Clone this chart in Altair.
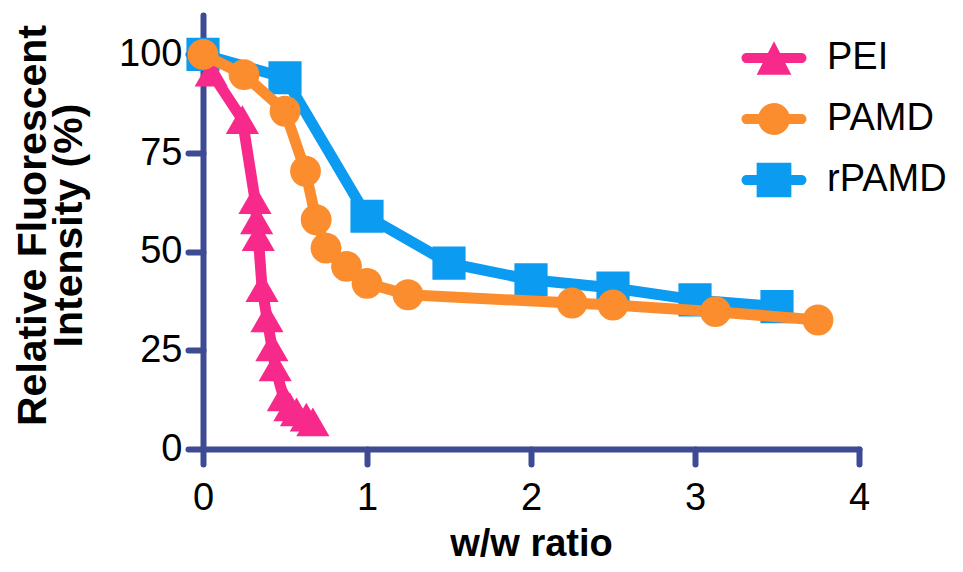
import altair as alt
import pandas as pd

# ---------------- data ----------------
series_names = ["PEI", "PAMD", "rPAMD"]
series_colors = ["#F72A8B", "#FB8D2E", "#0B9BF0"]

pei_x = [0.05, 0.24, 0.317, 0.327, 0.337, 0.36, 0.39, 0.42, 0.44, 0.49, 0.53, 0.57, 0.63, 0.67]
pei_y = [95.5, 83.5, 63.2, 58.1, 53.8, 40.9, 33.2, 25.9, 20.8, 13.2, 10.7, 9.4, 8.1, 6.9]

pamd_x = [0, 0.25, 0.5, 0.625, 0.69, 0.75, 0.875, 1.0, 1.25, 2.25, 2.5, 3.125, 3.75]
pamd_y = [100, 94.9, 85.6, 70.4, 58.1, 50.9, 46.3, 42.0, 39.1, 37.0, 36.5, 34.8, 32.7]

rpamd_x = [0, 0.5, 1, 1.5, 2, 2.5, 3, 3.5]
rpamd_y = [100, 94.1, 59.0, 47.1, 42.9, 40.8, 37.8, 36.1]

x_ticks = [0, 1, 2, 3, 4]
y_ticks = [0, 25, 50, 75, 100]
x_title = "w/w ratio"
y_title = ["Relative Fluorescent", "Intensity (%)"]

rows = []
for name, xs, ys in [("PEI", pei_x, pei_y), ("PAMD", pamd_x, pamd_y), ("rPAMD", rpamd_x, rpamd_y)]:
    for xv, yv in zip(xs, ys):
        rows.append({"series": name, "ratio": xv, "intensity": yv})
df = pd.DataFrame(rows)

# ---------------- style ----------------
AX = "#3E4A94"
FONT = "Liberation Sans"
color_of = dict(zip(series_names, series_colors))

axis_common = dict(
    domainColor=AX, domainWidth=6, domainCap="round",
    tickColor=AX, tickWidth=6, tickSize=15, tickCap="round",
    labelFont=FONT, labelFontSize=38, labelColor="black",
    labelFlush=False, labelOverlap=False,
    titleFont=FONT, titleFontWeight="bold", titleColor="black",
    grid=False,
)

x_enc = alt.X(
    "ratio:Q",
    scale=alt.Scale(domain=[0, 4], nice=False, zero=False),
    axis=alt.Axis(values=x_ticks, title=x_title, labelPadding=15,
                  titleFontSize=38, titleBaseline="alphabetic",
                  titleX=328, titleY=106, titleAlign="center", **axis_common),
)
y_enc = alt.Y(
    "intensity:Q",
    scale=alt.Scale(domain=[0, 110], nice=False),
    axis=alt.Axis(values=y_ticks, title=y_title, labelPadding=6,
                  titleFontSize=41, titleAngle=270, titleBaseline="top",
                  titleAlign="center", titleX=-190, titleY=210,
                  titleLineHeight=36, **axis_common),
)

# legend symbols: short rounded bar + marker (normalised path coordinates)
hw, t = 1.16, 0.18
bar = (f"M{-hw + t},{-t}L{hw - t},{-t}A{t},{t} 0 0 1 {hw - t},{t}"
       f"L{-hw + t},{t}A{t},{t} 0 0 1 {-hw + t},{-t}Z")
legend_paths = [
    bar + "M0,-0.6L0.62,0.6L-0.62,0.6Z",
    bar + "M-0.57,0A0.57,0.57 0 1 1 0.57,0A0.57,0.57 0 1 1 -0.57,0Z",
    bar + "M-0.62,-0.62L0.62,-0.62L0.62,0.62L-0.62,0.62Z",
]

legend = alt.Legend(
    title=None, orient="none", legendX=543, legendY=15,
    symbolSize=3136, symbolStrokeWidth=0, symbolOpacity=1,
    labelFont=FONT, labelFontSize=38, labelColor="black",
    labelOffset=25, rowPadding=14, padding=0,
)

base = alt.Chart(df)
layers = []
for name, shape, size in [("rPAMD", "square", 1100), ("PEI", "triangle-up", 1100), ("PAMD", "circle", 950)]:
    sub = base.transform_filter(alt.datum.series == name)
    col = color_of[name]
    layers.append(
        sub.mark_line(strokeWidth=11, strokeJoin="round", color=col).encode(x=x_enc, y=y_enc)
    )
    layers.append(
        sub.mark_point(filled=True, shape=shape, size=size, opacity=1, strokeWidth=0, color=col)
        .encode(x=x_enc, y=y_enc)
    )

legend_layer = base.transform_filter("false").mark_point(filled=True, opacity=1).encode(
    x=x_enc, y=y_enc,
    color=alt.Color("series:N", scale=alt.Scale(domain=series_names, range=series_colors), legend=legend),
    shape=alt.Shape("series:N", scale=alt.Scale(domain=series_names, range=legend_paths), legend=legend),
)
layers.append(legend_layer)

chart = alt.layer(*layers).properties(
    width=656, height=434,
    autosize=alt.AutoSizeParams(type="none"),
    padding={"left": 195, "top": 7, "right": 96, "bottom": 115},
    background="white",
).configure_view(strokeWidth=0)

chart.save("out.html", embed_options={"renderer": "svg", "actions": False})
